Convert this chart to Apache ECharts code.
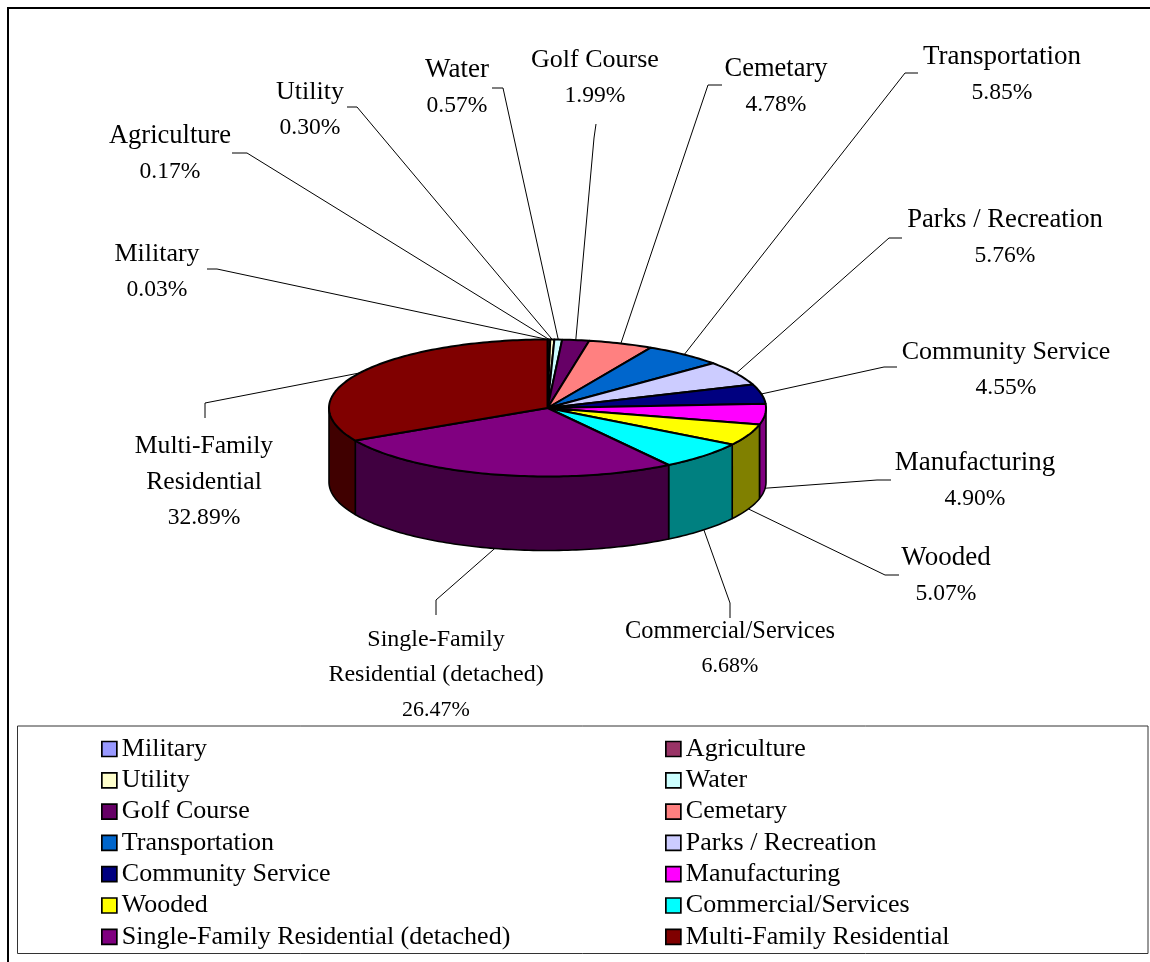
<!DOCTYPE html>
<html><head><meta charset="utf-8">
<style>html,body{margin:0;padding:0;background:#fff}#c{width:1150px;height:962px}</style>
<script src="https://cdn.jsdelivr.net/npm/echarts@6/dist/echarts.min.js"></script>
</head><body><div id="c"></div>
<script>
// ---- data ----
const categories = ['Military','Agriculture','Utility','Water','Golf Course','Cemetary','Transportation','Parks / Recreation','Community Service','Manufacturing','Wooded','Commercial/Services','Single-Family Residential (detached)','Multi-Family Residential'];
const shares = [0.03,0.17,0.30,0.57,1.99,4.78,5.85,5.76,4.55,4.90,5.07,6.68,26.47,32.89];
const labelLines = [['Military'],['Agriculture'],['Utility'],['Water'],['Golf Course'],['Cemetary'],['Transportation'],['Parks / Recreation'],['Community Service'],['Manufacturing'],['Wooded'],['Commercial/Services'],['Single-Family','Residential (detached)'],['Multi-Family','Residential']];
const topColors = ['#9999FF','#993366','#FFFFCC','#CCFFFF','#660066','#FF8080','#0066CC','#CCCCFF','#000080','#FF00FF','#FFFF00','#00FFFF','#800080','#800000'];
const wallColors = ['#4C4C80','#4C1933','#808066','#668080','#330033','#804040','#003366','#666680','#000040','#800080','#808000','#008080','#400040','#400000'];
// ---- layout (label centres and leader elbows, px) ----
const labelAt = [[157,272],[170,154],[310,110],[457,88],[595,78],[776,87],[1002,75],[1005,238],[1006,370],[975,481],[946,576],[730,649],[436,675],[204,482]];
const stubA = [[207,269],[232,153],[347,107],[492,88],[596,124],[722,85],[918,73],[902,238],[897,367],[891,480],[899,575],[730,618],[436,615],[205,418]];
const stubB = [[217,269],[247,153],[357,107],[503,88],[594,138],[708,85],[905,73],[889,238],[884,367],[877,480],[885,575],[730,603],[436,600],[205,403]];
const nameFont = [26,26.5,26,27,26,26.5,27,26.7,26,27,27,24.4,24,25.7];
const pctFont = [23.6,23.6,23.6,23.6,23.6,23.6,23.6,23.6,23.6,23.6,23.6,22,22,23.6];
const labelLH = [36,36,36,36,36,36,36,36,36,36,36,34.5,35,36];
const cx = 547.5, cy = 408, rx = 218.5, ry = 68.5, depth = 74;
const FONT = '"Liberation Serif","Times New Roman",serif';

const total = shares.reduce((a,b)=>a+b,0);
const cum = [0]; shares.forEach((v,i)=>cum.push(cum[i]+v));
const toAngle = v => echarts.number.linearMap(v,[0,total],[0,Math.PI*2]);
const pt = (t,dy) => [cx+rx*Math.sin(t), cy-ry*Math.cos(t)+(dy||0)];
function arc(a,b,dy){const n=Math.max(2,Math.ceil((b-a)/0.02));const o=[];for(let k=0;k<=n;k++)o.push(pt(a+(b-a)*k/n,dy));return o;}

function renderSlice(i){
  return function(params,api){
    const value = api.value(0);
    const a = toAngle(cum[i]), b = toAngle(cum[i]+value), mid=(a+b)/2;
    const children=[];
    const wa=Math.max(a,Math.PI/2), wb=Math.min(b,Math.PI*1.5);
    if(wb>wa){
      const top=arc(wa,wb,0), bot=arc(wa,wb,depth).reverse();
      children.push({type:'polygon',shape:{points:top.concat(bot)},style:{fill:wallColors[i],stroke:'#000',lineWidth:1.6,lineJoin:'round'}});
    }
    children.push({type:'polygon',shape:{points:[[cx,cy]].concat(arc(a,b,0))},style:{fill:topColors[i],stroke:'#000',lineWidth:2,lineJoin:'round'},z2:5});
    const front = mid>Math.PI/2 && mid<Math.PI*1.5;
    const anchor = pt(mid, front?depth:0);
    children.push({type:'polyline',shape:{points:[stubA[i],stubB[i],anchor]},style:{fill:null,stroke:'#000',lineWidth:1},z2:1});
    const lines = labelLines[i].concat([value.toFixed(2)+'%']);
    lines.forEach((line,k)=>{
      const isPct = k===lines.length-1;
      children.push({type:'text',z2:10,style:{text:line,x:labelAt[i][0],y:labelAt[i][1]+(k-(lines.length-1)/2)*labelLH[i],align:'center',verticalAlign:'middle',font:(isPct?pctFont[i]:nameFont[i])+'px '+FONT,fill:'#000'}});
    });
    return {type:'group',children};
  };
}
const series = categories.map((name,i)=>({
  type:'custom',name,coordinateSystem:'none',data:[[shares[i]]],
  encode:{value:0},silent:true,animation:false,
  itemStyle:{color:topColors[i]},
  renderItem:renderSlice(i),z:2
}));
const legendBase = {orient:'vertical',icon:'rect',padding:0,itemWidth:15,itemHeight:15,itemGap:5.3,selectedMode:false,
  itemStyle:{borderColor:'#000',borderWidth:1.7},
  textStyle:{fontFamily:FONT,fontSize:26,color:'#000',lineHeight:26}};
const option = {
  animation:false,backgroundColor:'#fff',
  legend:[
    Object.assign({},legendBase,{left:101,top:736,data:categories.filter((c,i)=>i%2===0)}),
    Object.assign({},legendBase,{left:665,top:736,data:categories.filter((c,i)=>i%2===1)})
  ],
  graphic:[
    {type:'polyline',shape:{points:[[8,962],[8,8],[1150,8]]},style:{fill:null,stroke:'#000',lineWidth:2},silent:true},
    {type:'rect',shape:{x:17.5,y:726,width:1130.5,height:227.5},style:{fill:'#fff',stroke:'#333',lineWidth:1},silent:true,z:-1}
  ],
  series
};
const chart = echarts.init(document.getElementById('c'),null,{renderer:'canvas'});
chart.setOption(option);
</script></body></html>
